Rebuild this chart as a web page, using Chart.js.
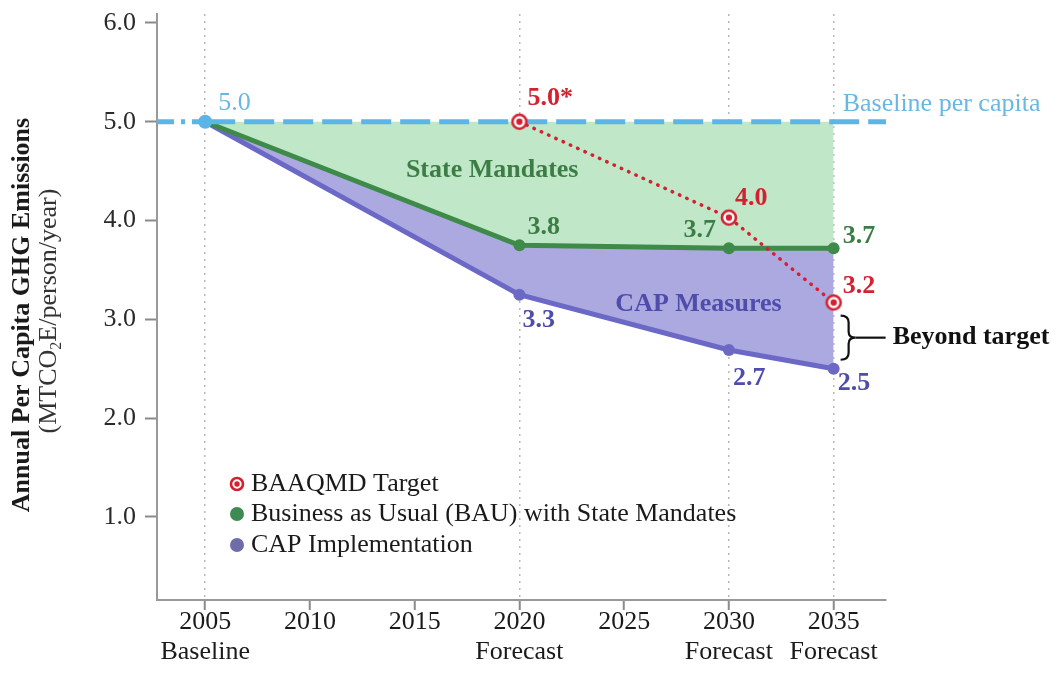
<!DOCTYPE html>
<html><head><meta charset="utf-8">
<script src="https://cdn.jsdelivr.net/npm/chart.js@4.4.0/dist/chart.umd.min.js"></script>
<style>html,body{margin:0;padding:0;background:#fff;}#wrap{width:1057px;height:681px;}</style>
</head><body><div id="wrap"><canvas id="c" width="1057" height="681"></canvas></div>
<script>
// ---- data ----
const years = [2005, 2020, 2030, 2035];
const baselineValue = 5.0;
const bauValues = [5.0, 3.75, 3.72, 3.72];
const capValues = [5.0, 3.25, 2.69, 2.50];
const targetYears = [2020, 2030, 2035];
const targetValues = [5.0, 4.03, 3.17];
const baselineLabel = '5.0';
const bauLabels = ['', '3.8', '3.7', '3.7'];
const capLabels = ['', '3.3', '2.7', '2.5'];
const targetLabels = ['5.0*', '4.0', '3.2'];
const xTickYears = [2005, 2010, 2015, 2020, 2025, 2030, 2035];
const xTickLabels = [['2005', 'Baseline'], '2010', '2015', ['2020', 'Forecast'], '2025', ['2030', 'Forecast'], ['2035', 'Forecast']];
const yTickValues = [1, 2, 3, 4, 5, 6];
const gridYears = [2005, 2020, 2030, 2035];
const legendLabels = ['BAAQMD Target', 'Business as Usual (BAU) with State Mandates', 'CAP Implementation'];
const areaLabels = ['State Mandates', 'CAP Measures'];
const baselineText = 'Baseline per capita';
const beyondText = 'Beyond target';
const yTitle = 'Annual Per Capita GHG Emissions';

// ---- styles ----
const X_MIN = 2002.7, X_MAX = 2037.5, Y_MIN = 0.16, Y_MAX = 6.09;
const RED = '#d42030', GREEN = '#3e8a48', PURPLE = '#6c69c6', BLUE = '#5bb5e6';
const GREEN_FILL = '#c0e7c7', PURPLE_FILL = '#aba9e0';
const GREEN_TXT = '#3c7d46', PURPLE_TXT = '#4f4cab', BLUE_TXT = '#68b8e2';
const SERIF = '"Liberation Serif", "Times New Roman", serif';

function makeTargetMarker(r) {
  const s = 2 * r + 6, c = document.createElement('canvas');
  c.width = s; c.height = s;
  const g = c.getContext('2d');
  g.beginPath(); g.arc(s / 2, s / 2, r, 0, Math.PI * 2);
  g.fillStyle = '#fff'; g.fill();
  g.lineWidth = 2.6; g.strokeStyle = RED; g.stroke();
  g.beginPath(); g.arc(s / 2, s / 2, r * 0.45, 0, Math.PI * 2);
  g.fillStyle = RED; g.fill();
  return c;
}
const targetMarker = makeTargetMarker(7);
const legendMarker = makeTargetMarker(6);

const annot = {
  id: 'annot',
  afterDatasetsDraw(chart) {
    const { ctx, scales: { x, y } } = chart;
    const px = v => x.getPixelForValue(v), py = v => y.getPixelForValue(v);
    ctx.save();
    function txt(s, X, Y, color, bold, align) {
      ctx.font = (bold ? 'bold ' : '') + '26px ' + SERIF;
      ctx.fillStyle = color; ctx.textAlign = align || 'left'; ctx.textBaseline = 'middle';
      ctx.fillText(s, X, Y);
    }
    // baseline labels
    txt(baselineLabel, px(years[0]) + 13, py(baselineValue) - 19, BLUE_TXT, false);
    txt(baselineText, px(years[3]) + 9, py(baselineValue) - 18, BLUE_TXT, false);
    // target labels
    const tOff = [[8, -23], [6, -19], [9, -16]];
    targetYears.forEach((yr, i) => txt(targetLabels[i], px(yr) + tOff[i][0], py(targetValues[i]) + tOff[i][1], RED, true));
    // BAU labels
    const bOff = [null, [8, -18, 'left'], [-13, -18, 'right'], [9, -12, 'left']];
    years.forEach((yr, i) => { if (bauLabels[i]) txt(bauLabels[i], px(yr) + bOff[i][0], py(bauValues[i]) + bOff[i][1], GREEN_TXT, true, bOff[i][2]); });
    // CAP labels
    const cOff = [null, [3, 26], [4, 28], [4, 15]];
    years.forEach((yr, i) => { if (capLabels[i]) txt(capLabels[i], px(yr) + cOff[i][0], py(capValues[i]) + cOff[i][1], PURPLE_TXT, true); });
    // area labels
    txt(areaLabels[0], px(2018.7), py(4.51), GREEN_TXT, true, 'center');
    txt(areaLabels[1], px(2028.55), py(3.15), PURPLE_TXT, true, 'center');
    // bracket
    const bx = px(years[3]) + 7;
    const top = py(targetValues[2]) + 13, bot = py(capValues[3]) - 9, mid = (top + bot) / 2;
    ctx.strokeStyle = '#111'; ctx.lineWidth = 2.2;
    ctx.beginPath();
    ctx.moveTo(bx, top);
    ctx.quadraticCurveTo(bx + 8, top, bx + 8, top + 7);
    ctx.lineTo(bx + 8, mid - 6);
    ctx.quadraticCurveTo(bx + 8, mid, bx + 15, mid);
    ctx.quadraticCurveTo(bx + 8, mid, bx + 8, mid + 6);
    ctx.lineTo(bx + 8, bot - 7);
    ctx.quadraticCurveTo(bx + 8, bot, bx, bot);
    ctx.stroke();
    ctx.beginPath(); ctx.moveTo(bx + 15, mid); ctx.lineTo(bx + 45, mid); ctx.stroke();
    txt(beyondText, bx + 52, mid, '#111', true);
    ctx.restore();
  },
  afterDraw(chart) {
    const { ctx } = chart;
    ctx.save();
    // legend
    const lx = 237, ly = [484, 514, 545];
    ctx.drawImage(legendMarker, lx - legendMarker.width / 2, ly[0] - legendMarker.height / 2);
    ctx.beginPath(); ctx.arc(lx, ly[1], 7, 0, Math.PI * 2); ctx.fillStyle = '#3f8a52'; ctx.fill();
    ctx.beginPath(); ctx.arc(lx, ly[2], 7, 0, Math.PI * 2); ctx.fillStyle = '#6f6da8'; ctx.fill();
    ctx.font = '26px ' + SERIF; ctx.fillStyle = '#1a1a1a'; ctx.textAlign = 'left'; ctx.textBaseline = 'middle';
    legendLabels.forEach((s, i) => ctx.fillText(s, lx + 14, ly[i]));
    // y titles
    const cy = (chart.chartArea.top + chart.chartArea.bottom) / 2 + 8;
    ctx.translate(22, cy); ctx.rotate(-Math.PI / 2);
    ctx.textAlign = 'center'; ctx.fillStyle = '#1a1a1a';
    ctx.font = 'bold 26px ' + SERIF;
    ctx.fillText(yTitle, 0, 0);
    // subtitle with subscript
    const f1 = '26px ' + SERIF, f2 = '16px ' + SERIF;
    const a = '(MTCO', b = '2', c = 'E/person/year)';
    ctx.font = f1; const wa = ctx.measureText(a).width, wc = ctx.measureText(c).width;
    ctx.font = f2; const wb = ctx.measureText(b).width;
    let sx = -(wa + wb + wc) / 2 + 4;
    ctx.textAlign = 'left'; ctx.fillStyle = '#333';
    ctx.font = f1; ctx.fillText(a, sx, 27); sx += wa;
    ctx.font = f2; ctx.fillText(b, sx, 35); sx += wb;
    ctx.font = f1; ctx.fillText(c, sx, 27);
    ctx.restore();
  }
};

const pts = (xs, ys) => xs.map((v, i) => ({ x: v, y: ys[i] }));

new Chart(document.getElementById('c'), {
  type: 'line',
  data: {
    datasets: [
      { label: legendLabels[0], data: pts(targetYears, targetValues), borderColor: RED, borderWidth: 3.5,
        borderDash: [0.5, 7.5], borderCapStyle: 'round', pointStyle: targetMarker, pointRadius: 9, fill: false, order: 0 },
      { label: 'Baseline', data: [{ x: X_MIN, y: baselineValue }, { x: years[0], y: baselineValue }, { x: X_MAX, y: baselineValue }],
        borderColor: BLUE, borderWidth: 5, borderDash: [30, 9], pointRadius: [0, 7, 0], pointBackgroundColor: BLUE,
        pointBorderWidth: 0, fill: false, order: 1,
        segment: { borderDash: c => c.p0DataIndex === 0 ? [17, 7, 4, 7] : [30, 9] } },
      { label: legendLabels[1], data: pts(years, bauValues), borderColor: GREEN, borderWidth: 5,
        backgroundColor: GREEN_FILL, fill: { target: 4 }, pointRadius: 6, pointBackgroundColor: GREEN,
        pointBorderWidth: 0, tension: 0, order: 2 },
      { label: legendLabels[2], data: pts(years, capValues), borderColor: PURPLE, borderWidth: 5,
        backgroundColor: PURPLE_FILL, fill: { target: 2 }, pointRadius: 6, pointBackgroundColor: PURPLE,
        pointBorderWidth: 0, tension: 0, order: 3 },
      { label: 'top', data: pts(years, years.map(() => baselineValue)), borderWidth: 0, pointRadius: 0,
        borderColor: 'rgba(0,0,0,0)', fill: false, order: 4 }
    ]
  },
  options: {
    responsive: false, animation: false, devicePixelRatio: 1,
    layout: { padding: { left: 0, right: 171, top: 14, bottom: 0 } },
    plugins: { legend: { display: false }, tooltip: { enabled: false } },
    scales: {
      x: {
        type: 'linear', min: X_MIN, max: X_MAX,
        afterBuildTicks: s => { s.ticks = xTickYears.map(v => ({ value: v })); },
        afterFit: s => { s.height = 81; s.paddingLeft = 0; s.paddingRight = 0; },
        ticks: { callback: v => xTickLabels[xTickYears.indexOf(v)], color: '#1a1a1a', padding: -3, maxRotation: 0, autoSkip: false,
          font: { family: SERIF, size: 26, lineHeight: 1.16 } },
        grid: { color: c => (c.tick && gridYears.includes(c.tick.value)) ? '#b8b8b8' : 'rgba(0,0,0,0)',
          lineWidth: 1.5, tickColor: '#8a8a8a', tickLength: 10, tickWidth: 2 },
        border: { color: '#999', width: 2, dash: [2, 5] }
      },
      y: {
        min: Y_MIN, max: Y_MAX,
        afterBuildTicks: s => { s.ticks = yTickValues.map(v => ({ value: v })); },
        afterFit: s => { s.width = 157; s.paddingTop = 0; s.paddingBottom = 0; },
        ticks: { callback: v => v.toFixed(1), color: '#2a2a2a', padding: 9, font: { family: SERIF, size: 26 } },
        grid: { drawOnChartArea: false, tickColor: '#8a8a8a', tickLength: 12, tickWidth: 2 },
        border: { color: '#999', width: 2 }
      }
    }
  },
  plugins: [annot]
});
</script>
</body></html>
